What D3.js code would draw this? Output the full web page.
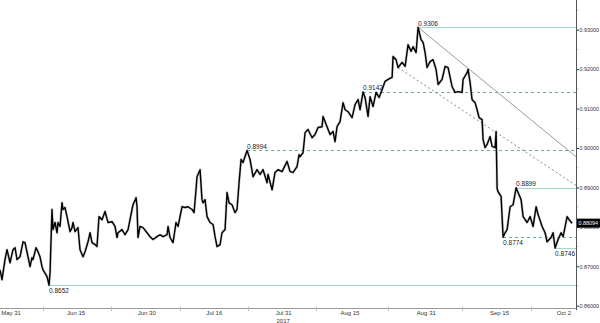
<!DOCTYPE html>
<html>
<head>
<meta charset="utf-8">
<script src="https://cdn.jsdelivr.net/npm/d3@7"></script>
<style>
  body { margin: 0; background: #fff; }
  text { font-family: "Liberation Sans", Arial, sans-serif; }
</style>
</head>
<body>
<svg id="chart" width="600" height="323"></svg>
<script>
// trading days counted from May 31 2017 (weekdays only)
var days = [-1.27,-0.95,-0.48,-0.16,0.32,0.79,1.11,1.43,1.90,2.38,2.69,3.17,3.49,3.80,3.96,4.44,4.75,5.07,5.39,5.55,6.18,6.50,6.66,6.97,7.13,7.45,7.77,7.92,8.24,8.56,8.72,9.03,9.35,9.83,10.14,10.30,10.62,11.09,11.41,11.89,12.20,12.68,13.00,13.31,13.79,14.10,14.42,14.90,15.37,15.85,16.48,16.96,17.27,17.43,18.07,18.54,19.02,19.65,19.81,20.29,20.44,20.60,20.92,21.39,22.03,22.50,22.98,23.61,24.09,24.56,25.20,25.36,25.67,26.15,26.62,26.94,27.58,28.05,28.53,29.16,29.48,29.79,29.95,30.43,30.74,30.90,31.22,31.54,32.01,32.49,32.81,33.12,33.60,33.91,34.39,34.71,35.02,35.50,35.97,36.29,36.61,36.93,37.24,37.88,38.35,38.83,39.46,39.94,40.41,41.05,41.20,41.84,42.31,42.79,43.42,44.22,44.69,45.17,45.80,46.12,46.28,46.75,47.07,47.54,48.18,48.65,49.13,49.76,49.92,50.55,51.03,51.51,51.82,52.14,52.61,53.09,53.41,53.88,54.52,54.99,55.47,55.78,56.26,56.58,57.05,57.37,57.84,58.32,58.80,59.27,59.75,60.22,60.86,61.01,61.49,61.81,62.44,62.92,63.39,63.87,64.18,64.66,64.98,65.45,65.77,66.09,66.40,66.88,67.35,67.83,68.15,68.78,69.26,69.73,70.36,70.84,71.32,71.95,72.11,72.74,72.90,73.22,73.53,74.01,74.33,74.64,75.12,75.28,75.59,75.91,76.39,76.70,77.18,77.34,77.50,77.65,78.13,78.45,78.76,79.08,79.56,80.03,80.51,80.82,81.30,81.62,82.25,82.73,83.20,83.68,84.00,84.63,85.10,85.42,86.05,86.37,86.69,87.16,87.64,87.96,88.59,88.91,89.38];
var rate = [0.8691,0.8666,0.8717,0.8742,0.8709,0.8742,0.8747,0.8717,0.8724,0.8762,0.8760,0.8724,0.8699,0.8722,0.8717,0.8747,0.8737,0.8724,0.8699,0.8691,0.8674,0.8652,0.8684,0.8844,0.8793,0.8811,0.8785,0.8811,0.8801,0.8861,0.8844,0.8849,0.8826,0.8788,0.8798,0.8811,0.8788,0.8798,0.8742,0.8724,0.8737,0.8762,0.8785,0.8760,0.8755,0.8750,0.8826,0.8818,0.8839,0.8811,0.8813,0.8801,0.8773,0.8785,0.8793,0.8780,0.8793,0.8844,0.8856,0.8874,0.8851,0.8773,0.8801,0.8798,0.8785,0.8775,0.8768,0.8775,0.8780,0.8775,0.8780,0.8801,0.8773,0.8760,0.8811,0.8801,0.8851,0.8849,0.8851,0.8844,0.8836,0.8894,0.8927,0.8945,0.8869,0.8861,0.8869,0.8826,0.8811,0.8806,0.8775,0.8750,0.8755,0.8785,0.8793,0.8887,0.8861,0.8856,0.8836,0.8844,0.8912,0.8971,0.8963,0.8994,0.8971,0.8927,0.8945,0.8933,0.8945,0.8912,0.8933,0.8894,0.8938,0.8945,0.8940,0.8966,0.8940,0.8938,0.8953,0.8983,0.8978,0.8988,0.9039,0.9047,0.9026,0.9034,0.9052,0.9054,0.9080,0.9054,0.9034,0.9042,0.9016,0.9054,0.9067,0.9115,0.9097,0.9092,0.9077,0.9110,0.9123,0.9097,0.9142,0.9128,0.9080,0.9130,0.9105,0.9141,0.9128,0.9148,0.9169,0.9174,0.9179,0.9232,0.9224,0.9204,0.9217,0.9207,0.9262,0.9245,0.9257,0.9242,0.9306,0.9275,0.9268,0.9242,0.9204,0.9219,0.9224,0.9199,0.9161,0.9174,0.9207,0.9204,0.9156,0.9141,0.9143,0.9141,0.9174,0.9191,0.9199,0.9166,0.9123,0.9115,0.9097,0.9077,0.9072,0.9021,0.9001,0.9009,0.9029,0.9004,0.9001,0.9042,0.8897,0.8889,0.8877,0.8774,0.8785,0.8793,0.8851,0.8856,0.8899,0.8887,0.8869,0.8826,0.8811,0.8826,0.8801,0.8851,0.8831,0.8801,0.8785,0.8762,0.8773,0.8785,0.8746,0.8768,0.8785,0.8775,0.8826,0.8818,0.8809];

var tickDays = [0.4, 10.7, 21.9, 32.6, 43.6, 54.1, 66.2, 77.8, 88.0];
var tickLabels = ["May 31", "Jun 15", "Jun 30", "Jul 16", "Jul 31", "Aug 15", "Aug 31", "Sep 15", "Oct 2"];
var yTicks = [0.86, 0.87, 0.88, 0.89, 0.90, 0.91, 0.92, 0.93];

// highs / lows marked on the chart
var levelDays   = [64.98, 56.26, 37.88, 80.51, 78.45, 86.69, 6.50];
var levelValues = [0.9306, 0.9142, 0.8994, 0.8899, 0.8774, 0.8746, 0.8652];
var levelDashed = [false, true, true, false, true, false, false];
var levelAbove  = [true, true, true, true, false, false, false];

// trend lines: [startDay, startValue, endDay, endValue]
var trendSolid  = [64.98, 0.9306, 90.0, 0.8978];
var trendDotted = [61.81, 0.9204, 90.0, 0.8905];

var lastValue = 0.88094;

var svg = d3.select("#chart"),
    plotRight = 576;

var x = d3.scaleLinear().domain([-1.27, 90.0]).range([0, plotRight]);
var y = d3.scaleLinear().domain([0.86, 0.93]).range([305.7, 29.7]);

// horizontal support / resistance levels
var lv = svg.append("g");
levelValues.forEach(function(v, i) {
  lv.append("line")
    .attr("x1", x(levelDays[i])).attr("x2", plotRight)
    .attr("y1", Math.round(y(v)) + 0.5).attr("y2", Math.round(y(v)) + 0.5)
    .attr("stroke", levelDashed[i] ? "#5fb394" : "#9fd8c6")
    .attr("stroke-width", 1)
    .attr("stroke-dasharray", levelDashed[i] ? "3,3" : null);
});

// trend lines
svg.append("line")
  .attr("x1", x(trendSolid[0])).attr("y1", y(trendSolid[1]))
  .attr("x2", x(trendSolid[2])).attr("y2", y(trendSolid[3]))
  .attr("stroke", "#9a9a9a").attr("stroke-width", 1);
svg.append("line")
  .attr("x1", x(trendDotted[0])).attr("y1", y(trendDotted[1]))
  .attr("x2", x(trendDotted[2])).attr("y2", y(trendDotted[3]))
  .attr("stroke", "#8a8a8a").attr("stroke-width", 1)
  .attr("stroke-dasharray", "2,2.5");

// price line
var line = d3.line()
  .x(function(d, i) { return x(days[i]); })
  .y(function(d) { return y(d); });

svg.append("path")
  .datum(rate)
  .attr("d", line)
  .attr("fill", "none")
  .attr("stroke", "#8c8c8c")
  .attr("stroke-width", 2.6)
  .attr("stroke-linejoin", "round")
  .attr("opacity", 0.45);
svg.append("path")
  .datum(rate)
  .attr("d", line)
  .attr("fill", "none")
  .attr("stroke", "#000")
  .attr("stroke-width", 1.4)
  .attr("stroke-linejoin", "round");

// level labels
levelValues.forEach(function(v, i) {
  svg.append("text")
    .attr("x", x(levelDays[i]))
    .attr("y", levelAbove[i] ? y(v) - 1.5 : y(v) + 7.5)
    .attr("font-size", 6.5)
    .attr("fill", "#222")
    .text(v.toFixed(4));
});

// x axis
svg.append("line")
  .attr("x1", 0).attr("x2", plotRight)
  .attr("y1", 308.5).attr("y2", 308.5)
  .attr("stroke", "#999");

var xAxis = svg.append("g")
  .attr("transform", "translate(0,309)")
  .call(d3.axisBottom(x).tickValues(tickDays).tickSize(0).tickPadding(2)
    .tickFormat(function(d, i) { return tickLabels[i]; }));
xAxis.select(".domain").remove();
xAxis.selectAll("text").attr("font-size", 6).attr("fill", "#333")
  .attr("font-family", "Liberation Sans, Arial, sans-serif");

var midDays = tickDays.slice(1).map(function(d, i) { return (d + tickDays[i]) / 2; });
svg.append("g").selectAll("line")
  .data(midDays)
  .enter().append("line")
    .attr("x1", function(d) { return Math.round(x(d)) + 0.5; })
    .attr("x2", function(d) { return Math.round(x(d)) + 0.5; })
    .attr("y1", 307).attr("y2", 311)
    .attr("stroke", "#bbb");

svg.append("text")
  .attr("x", x(tickDays[4])).attr("y", 322.5)
  .attr("text-anchor", "middle")
  .attr("font-size", 6).attr("fill", "#333")
  .text("2017");

// y axis on the right
var yAxis = svg.append("g")
  .attr("transform", "translate(" + (plotRight + 0.5) + ",0)")
  .call(d3.axisRight(y).tickValues(yTicks).tickSize(2.5).tickPadding(0.5)
    .tickFormat(d3.format(".5f")));
yAxis.select(".domain").remove();
yAxis.selectAll("line").attr("stroke", "#333");
yAxis.selectAll("text").attr("font-size", 5.4).attr("fill", "#333")
  .attr("font-family", "Liberation Sans, Arial, sans-serif");

var minorY = d3.range(0.855, 0.94, 0.01);
svg.append("g").selectAll("line")
  .data(minorY)
  .enter().append("line")
    .attr("x1", plotRight).attr("x2", plotRight + 2.5)
    .attr("y1", function(d) { return y(d); })
    .attr("y2", function(d) { return y(d); })
    .attr("stroke", "#ccc");

svg.append("line")
  .attr("x1", plotRight + 0.5).attr("x2", plotRight + 0.5)
  .attr("y1", 0).attr("y2", 310)
  .attr("stroke", "#555");

// last price tag (covers the 0.88000 label, as in the original)
var tag = svg.append("g").attr("transform", "translate(" + (plotRight + 1) + "," + y(lastValue) + ")");
tag.append("rect")
  .attr("x", 0).attr("y", -4.5).attr("width", 23).attr("height", 9)
  .attr("fill", "#000");
tag.append("text")
  .attr("x", 1.5).attr("y", 0).attr("dy", "0.35em")
  .attr("font-size", 5.4).attr("fill", "#fff")
  .text(lastValue.toFixed(5));
</script>
</body>
</html>
